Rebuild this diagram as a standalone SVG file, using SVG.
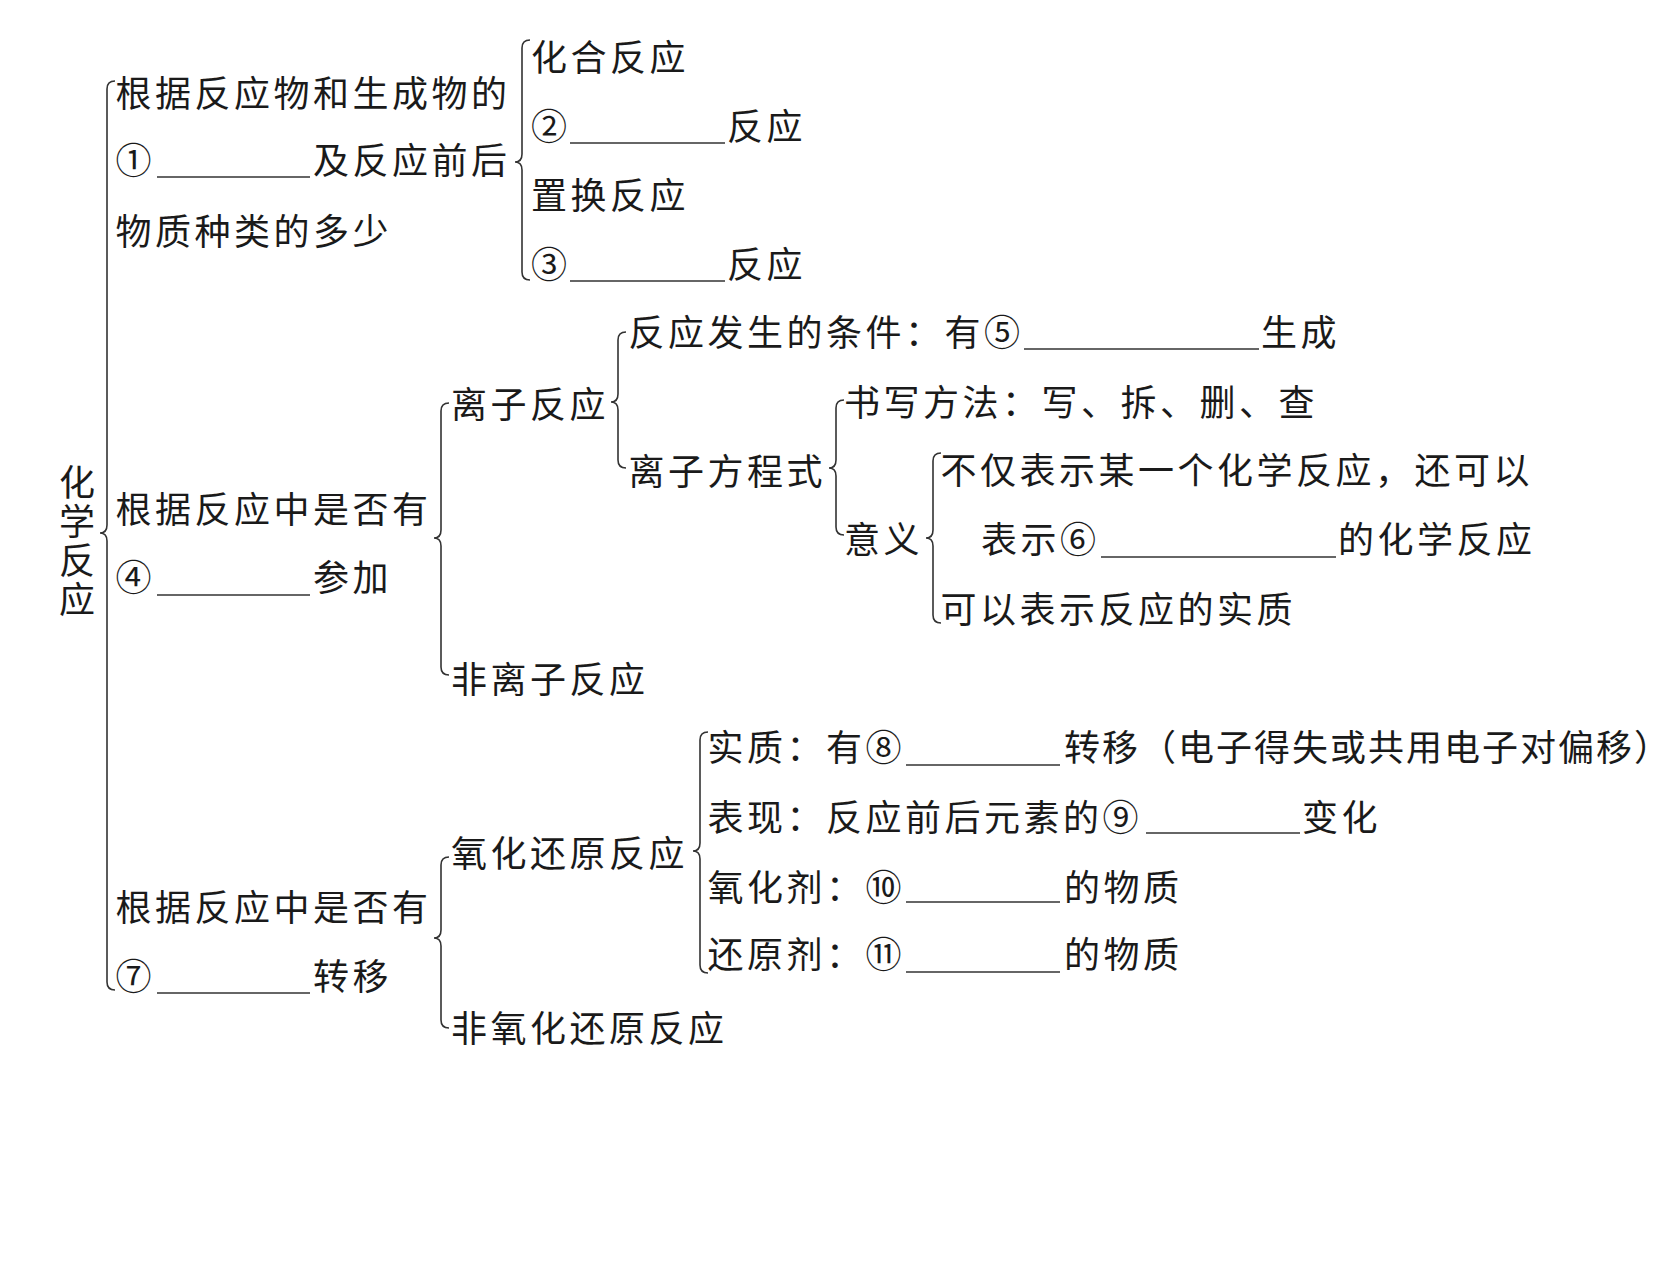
<svg xmlns="http://www.w3.org/2000/svg" width="1676" height="1266" viewBox="0 0 1676 1266">
<style>
.t{font-family:"Noto Sans CJK SC","Noto Sans CJK JP",sans-serif;font-size:36px;letter-spacing:3.5px;fill:#1a1a1a;dominant-baseline:central;font-weight:400}
.v{font-family:"Noto Sans CJK SC","Noto Sans CJK JP",sans-serif;font-size:36px;fill:#1a1a1a;font-weight:400;writing-mode:vertical-rl;letter-spacing:3px}
.b{fill:none;stroke:#333;stroke-width:1.6}
.u{stroke:#333;stroke-width:1.6}
</style>
<rect width="1676" height="1266" fill="#fff"/>
<g id="connectors">
<path class="b" d="M115,81 Q107,81 107,89 L107,525 Q107,533 100,533 Q107,533 107,541 L107,982 Q107,990 115,990"/>
<path class="b" d="M530,40 Q522,40 522,48 L522,154 Q522,162 515,162 Q522,162 522,170 L522,272 Q522,280 530,280"/>
<path class="b" d="M449,403 Q441,403 441,411 L441,530 Q441,538 434,538 Q441,538 441,546 L441,667 Q441,675 449,675"/>
<path class="b" d="M626,332 Q618,332 618,340 L618,394 Q618,402 611,402 Q618,402 618,410 L618,460 Q618,468 626,468"/>
<path class="b" d="M844,400 Q836,400 836,408 L836,460 Q836,468 829,468 Q836,468 836,476 L836,527 Q836,535 844,535"/>
<path class="b" d="M941,453 Q933,453 933,461 L933,530 Q933,538 926,538 Q933,538 933,546 L933,615 Q933,623 941,623"/>
<path class="b" d="M449,857 Q441,857 441,865 L441,930 Q441,938 434,938 Q441,938 441,946 L441,1020 Q441,1028 449,1028"/>
<path class="b" d="M708,732 Q700,732 700,740 L700,843 Q700,851 693,851 Q700,851 700,859 L700,965 Q700,973 708,973"/>
</g>
<g id="root">
<text class="v" x="77" y="464">化学反应</text>
</g>
<g id="n1">
<text class="t" x="115.5" y="91">根据反应物和生成物的</text>
<text class="t" x="115.5" y="158">①</text>
<line class="u" x1="157" y1="177" x2="310" y2="177"/>
<text class="t" x="313" y="158">及反应前后</text>
<text class="t" x="115.5" y="229">物质种类的多少</text>
</g>
<g id="n1a"><text class="t" x="531" y="55">化合反应</text></g>
<g id="n1b">
<text class="t" x="531" y="124">②</text>
<line class="u" x1="570" y1="143" x2="725" y2="143"/>
<text class="t" x="727" y="124">反应</text>
</g>
<g id="n1c"><text class="t" x="531" y="193">置换反应</text></g>
<g id="n1d">
<text class="t" x="531" y="262">③</text>
<line class="u" x1="570" y1="281" x2="725" y2="281"/>
<text class="t" x="727" y="262">反应</text>
</g>
<g id="n2">
<text class="t" x="115.5" y="507">根据反应中是否有</text>
<text class="t" x="115.5" y="575">④</text>
<line class="u" x1="157" y1="595" x2="310" y2="595"/>
<text class="t" x="313" y="575">参加</text>
</g>
<g id="n2a"><text class="t" x="451" y="402">离子反应</text></g>
<g id="n2a1">
<text class="t" x="628.5" y="330">反应发生的条件：有⑤</text>
<line class="u" x1="1024" y1="349" x2="1259" y2="349"/>
<text class="t" x="1261" y="330">生成</text>
</g>
<g id="n2a2"><text class="t" x="628.5" y="469">离子方程式</text></g>
<g id="n2a2a"><text class="t" x="844" y="400">书写方法：写、拆、删、查</text></g>
<g id="n2a2b"><text class="t" x="844" y="537">意义</text></g>
<g id="n2a2b1">
<text class="t" x="940.6" y="468">不仅表示某一个化学反应，还可以</text>
<text class="t" x="981" y="537">表示⑥</text>
<line class="u" x1="1101" y1="557" x2="1336" y2="557"/>
<text class="t" x="1338" y="537">的化学反应</text>
</g>
<g id="n2a2b2"><text class="t" x="940.6" y="607">可以表示反应的实质</text></g>
<g id="n2b"><text class="t" x="451" y="677">非离子反应</text></g>
<g id="n3">
<text class="t" x="115.5" y="905">根据反应中是否有</text>
<text class="t" x="115.5" y="974">⑦</text>
<line class="u" x1="157" y1="993" x2="310" y2="993"/>
<text class="t" x="313" y="974">转移</text>
</g>
<g id="n3a"><text class="t" x="451" y="851">氧化还原反应</text></g>
<g id="n3a1">
<text class="t" x="707.6" y="745">实质：有⑧</text>
<line class="u" x1="906" y1="765" x2="1060" y2="765"/>
<text class="t" x="1064" y="745" style="letter-spacing:2px">转移（电子得失或共用电子对偏移）</text>
</g>
<g id="n3a2">
<text class="t" x="707.6" y="815">表现：反应前后元素的⑨</text>
<line class="u" x1="1146" y1="833" x2="1300" y2="833"/>
<text class="t" x="1302" y="815">变化</text>
</g>
<g id="n3a3">
<text class="t" x="707.6" y="885">氧化剂：⑩</text>
<line class="u" x1="906" y1="902" x2="1060" y2="902"/>
<text class="t" x="1064" y="885">的物质</text>
</g>
<g id="n3a4">
<text class="t" x="707.6" y="952">还原剂：⑪</text>
<line class="u" x1="906" y1="972" x2="1060" y2="972"/>
<text class="t" x="1064" y="952">的物质</text>
</g>
<g id="n3b"><text class="t" x="451" y="1026">非氧化还原反应</text></g>
</svg>
